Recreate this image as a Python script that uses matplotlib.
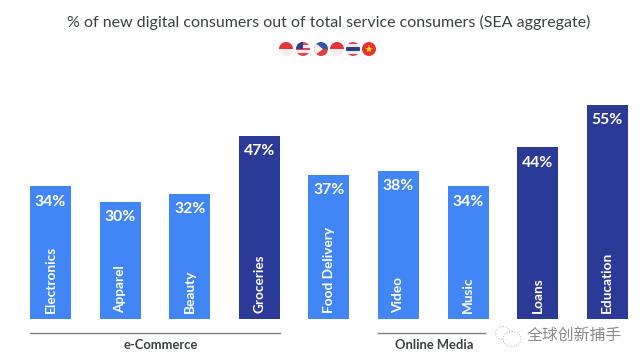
import matplotlib
matplotlib.use("Agg")
import matplotlib.pyplot as plt
from matplotlib.patches import Circle, Rectangle, Polygon, Ellipse

plt.rcParams['font.family'] = ['Lato', 'Noto Sans CJK SC', 'DejaVu Sans']

categories = ['Electronics', 'Apparel', 'Beauty', 'Groceries', 'Food Delivery',
              'Video', 'Music', 'Loans', 'Education']
values = [34, 30, 32, 47, 37, 38, 34, 44, 55]
dark = ['Groceries', 'Loans', 'Education']
title = '% of new digital consumers out of total service consumers (SEA aggregate)'

W, H = 640, 363
fig = plt.figure(figsize=(6.4, 3.63), dpi=100, facecolor='white')

# bars, one category = 69.6 px, 3.9 px per percent
left = 30 - 14.3
ax = fig.add_axes([left / W, (H - 319) / H, 9 * 69.6 / W, 260 / H])
ax.set_xlim(-0.5, 8.5)
ax.set_ylim(0, 260 / 3.9)
ax.axis('off')
colors = ['#2b3a97' if c in dark else '#4285f4' for c in categories]
ax.bar(range(len(values)), values, width=41 / 69.6, color=colors)
for i, (c, v) in enumerate(zip(categories, values)):
    ax.annotate(f'{v}%', (i, v), xytext=(0, -11), textcoords='offset points', ha='center', va='center',
                color='white', fontsize=11.3, fontweight='bold')
    ax.annotate(c, (i, 0), xytext=(0, 4), textcoords='offset points', ha='center', va='bottom',
                rotation=90, color='white', fontsize=9.8, fontweight='bold')

# overlay in pixels for the title, flags, group lines and watermark
ov = fig.add_axes([0, 0, 1, 1], zorder=5)
ov.set_xlim(0, W)
ov.set_ylim(H, 0)
ov.axis('off')
ov.patch.set_alpha(0)

ov.text(329, 22, title, ha='center', va='center', fontsize=11.5, color='#3c4043')

ov.plot([30, 280], [332.5, 332.5], color='#808080', lw=1)
ov.plot([378, 485], [332.5, 332.5], color='#808080', lw=1)
ov.text(161, 345, 'e-Commerce', ha='center', va='center', fontsize=9.4, fontweight='bold', color='#3c4043')
ov.text(434, 345, 'Online Media', ha='center', va='center', fontsize=9.4, fontweight='bold', color='#3c4043')


def flag(x, stripes, r=7):
    clip = Circle((x, 49), r, transform=ov.transData)
    y = 49 - r
    for col, frac in stripes:
        p = Rectangle((x - r, y), 2 * r, 2 * r * frac, color=col, lw=0)
        ov.add_patch(p)
        p.set_clip_path(clip)
        y += 2 * r * frac
    return clip


flag(286, [('#e8323c', .5), ('#f4eeee', .5)])
c = flag(303, [('#d9475a', .2), ('#f3e6e6', .2), ('#d9475a', .2), ('#f3e6e6', .2), ('#d9475a', .2)])
p = Rectangle((296, 42), 7, 7, color='#2b3f87', lw=0)
ov.add_patch(p)
p.set_clip_path(c)
c = flag(321, [('#2f55b5', .5), ('#e04040', .5)])
p = Polygon([(314, 42), (314, 56), (323, 49)], color='#f5f0e0', lw=0)
ov.add_patch(p)
p.set_clip_path(c)
flag(337, [('#e8323c', .5), ('#f4eeee', .5)])
flag(353, [('#d9475a', .16), ('#f3e6e6', .17), ('#2b3f87', .34), ('#f3e6e6', .17), ('#d9475a', .16)])
flag(369, [('#e5352b', 1)])
ov.plot([369], [49], marker='*', ms=6, color='#f7d038', mew=0)

# watermark
ov.add_patch(Ellipse((503, 333), 15, 13, fc='white', ec='#b4b4b4', lw=0.7, ls=':'))
ov.add_patch(Ellipse((512, 339), 18, 15, fc='white', ec='#b4b4b4', lw=0.7, ls=':'))
ov.text(574, 336, '全球创新捕手', ha='center', va='center', fontsize=11.4, color='#8a8a8a')

fig.savefig('out.png', dpi=100)
